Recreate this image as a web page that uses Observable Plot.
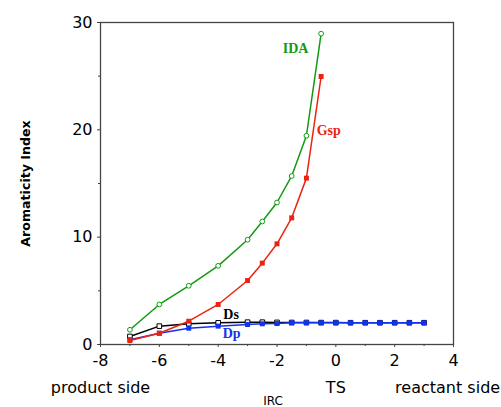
<!DOCTYPE html>
<html><head><meta charset="utf-8">
<script src="https://cdn.jsdelivr.net/npm/d3@7"></script>
<script src="https://cdn.jsdelivr.net/npm/@observablehq/plot@0.6"></script>
<style>body{margin:0;background:#fff}</style>
</head><body><div id="chart"></div>
<script>
const xIDA = [-7,-6,-5,-4,-3,-2.5,-2,-1.5,-1,-0.5];
const yIDA = [1.37,3.73,5.47,7.33,9.76,11.46,13.23,15.7,19.45,28.96];
const xGsp = [-7,-6,-5,-4,-3,-2.5,-2,-1.5,-1,-0.5];
const yGsp = [0.37,1.05,2.17,3.73,5.96,7.58,9.38,11.8,15.5,24.97];
const xD = [-7,-6,-5,-4,-3,-2.5,-2,-1.5,-1,-0.5,0,0.5,1,1.5,2,2.5,3];
const yDs = [0.75,1.71,1.93,2.02,2.08,2.08,2.06,2.05,2.05,2.04,2.04,2.03,2.03,2.03,2.03,2.03,2.03];
const yDp = [0.45,1.05,1.52,1.71,1.86,1.93,1.95,2.02,2.02,2.02,2.02,2.02,2.02,2.02,2.02,2.02,2.02];
const seriesNames = ["IDA","Gsp","Ds","Dp"];
const seriesColors = ["#129a12","#ee2211","#000000","#1133ee"];
const labelX = [-1.37,-0.24,-3.56,-3.54];
const labelY = [27.6,19.9,2.8,1.0];
const xMajor = [-8,-6,-4,-2,0,2,4];
const xMinor = [-7,-5,-3,-1,1,3];
const yMajor = [0,10,20,30];
const yMinor = [5,15,25];
const sideLabels = ["product side","TS","reactant side"];
const sideX = [-8,0,3.8];

const pts = (xs, ys) => xs.map((x,i)=>({x, y: ys[i]}));
const IDA = pts(xIDA,yIDA), Gsp = pts(xGsp,yGsp), Ds = pts(xD,yDs), Dp = pts(xD,yDp);
const labels = seriesNames.map((n,i)=>({n, x: labelX[i], y: labelY[i], c: seriesColors[i]}));
const sides = sideLabels.map((t,i)=>({t, x: sideX[i]}));
const fmt = d => (d < 0 ? "-" + Math.abs(d) : String(d));

const plot = Plot.plot({
  width: 501, height: 407,
  marginLeft: 100, marginRight: 48, marginTop: 22, marginBottom: 63,
  style: {fontFamily: "DejaVu Sans", fontSize: "16px", background: "#fff", color: "#000"},
  x: {domain: [-8,4]},
  y: {domain: [0,30]},
  marks: [
    Plot.axisX({ticks: xMajor, tickSize: 3, tickFormat: () => "", label: null, stroke: "#444"}),
    Plot.axisX({ticks: xMinor, tickSize: 2, tickFormat: () => "", label: null, stroke: "#444"}),
    Plot.axisX({ticks: xMajor, tickSize: 0, tickPadding: 10, tickFormat: fmt, label: null, fontSize: 16}),
    Plot.axisY({ticks: yMajor, tickSize: 3, tickFormat: () => "", label: null, stroke: "#444"}),
    Plot.axisY({ticks: yMinor, tickSize: 2, tickFormat: () => "", label: null, stroke: "#444"}),
    Plot.axisY({ticks: yMajor, tickSize: 0, tickPadding: 8, tickFormat: fmt, label: null, fontSize: 16}),
    Plot.frame({stroke: "#444", strokeWidth: 1.3}),
    Plot.line(Ds, {x: "x", y: "y", stroke: seriesColors[2], strokeWidth: 1.5}),
    Plot.dot(Ds, {x: "x", y: "y", symbol: "square", r: 2.6, stroke: seriesColors[2], fill: "#fff", strokeWidth: 1}),
    Plot.line(Dp, {x: "x", y: "y", stroke: seriesColors[3], strokeWidth: 1.5}),
    Plot.dot(Dp, {x: "x", y: "y", symbol: "square", r: 2.8, fill: seriesColors[3], stroke: "none"}),
    Plot.line(Gsp, {x: "x", y: "y", stroke: seriesColors[1], strokeWidth: 1.5}),
    Plot.dot(Gsp, {x: "x", y: "y", symbol: "square", r: 2.8, fill: seriesColors[1], stroke: "none"}),
    Plot.line(IDA, {x: "x", y: "y", stroke: seriesColors[0], strokeWidth: 1.5}),
    Plot.dot(IDA, {x: "x", y: "y", r: 2.4, stroke: seriesColors[0], fill: "#fff", strokeWidth: 1}),
    Plot.text(labels, {x: "x", y: "y", text: "n", fill: "c", fontFamily: "Liberation Serif", fontWeight: "bold", fontSize: 14}),
    Plot.text(sides, {x: "x", text: "t", frameAnchor: "bottom", dy: 48, fontSize: 16}),
    Plot.text(["IRC"], {text: d => d, frameAnchor: "bottom", dx: -4, dy: 60, fontSize: 12}),
    Plot.text(["Aromaticity Index"], {text: d => d, frameAnchor: "left", textAnchor: "middle", dx: -75, rotate: -90, fontWeight: "bold", fontSize: 12.6})
  ]
});
document.getElementById("chart").appendChild(plot);
</script>
</body></html>
